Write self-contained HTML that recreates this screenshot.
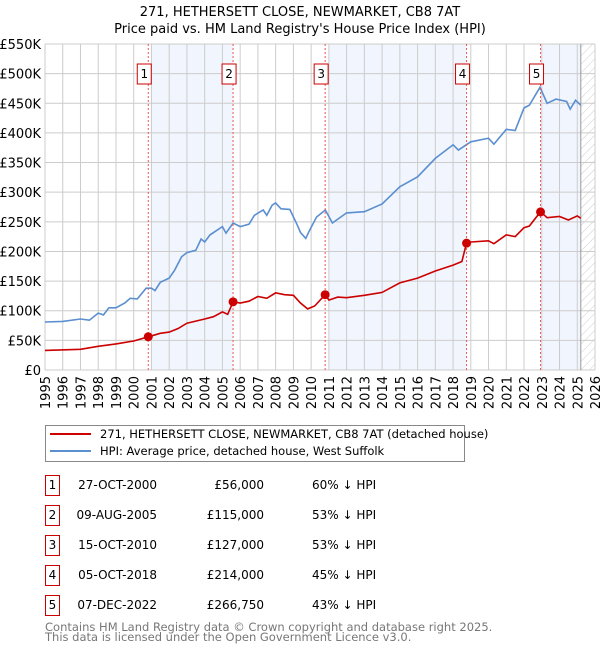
<!DOCTYPE html>
<html><head><meta charset="utf-8"><style>
body{margin:0;background:#fff;}
svg text{font-family:"DejaVu Sans","Liberation Sans",sans-serif;}
</style></head><body>
<svg id="c" width="600" height="650" viewBox="0 0 600 650" xmlns="http://www.w3.org/2000/svg">
<text x="300" y="16" font-size="13" text-anchor="middle">271, HETHERSETT CLOSE, NEWMARKET, CB8 7AT</text>
<text x="300" y="33" font-size="13" text-anchor="middle">Price paid vs. HM Land Registry's House Price Index (HPI)</text>
<g id="bands"></g><g id="grid"></g><g id="axes"></g><g id="series"></g><g id="marks"></g>
<g>
<rect x="45.5" y="425.5" width="419" height="36" fill="#fff" stroke="#888"/>
<line x1="50" y1="434" x2="91" y2="434" stroke="#cc0000" stroke-width="2"/>
<text x="100" y="438" font-size="11.5">271, HETHERSETT CLOSE, NEWMARKET, CB8 7AT (detached house)</text>
<line x1="50" y1="451" x2="91" y2="451" stroke="#5b8fd0" stroke-width="2"/>
<text x="100" y="455" font-size="11.5">HPI: Average price, detached house, West Suffolk</text>
</g>
<g id="table"></g>
<text x="45" y="631" font-size="11.5" fill="#777">Contains HM Land Registry data © Crown copyright and database right 2025.</text>
<text x="45" y="641" font-size="11.5" fill="#777">This data is licensed under the Open Government Licence v3.0.</text>
</svg>
<script>
const hpiYears=[1995,1996,1997,1997.5,1998,1998.3,1998.6,1999,1999.5,1999.8,2000.2,2000.7,2001,2001.2,2001.5,2002,2002.3,2002.7,2003,2003.5,2003.8,2004,2004.3,2005,2005.2,2005.6,2006,2006.5,2006.8,2007.3,2007.5,2007.8,2008,2008.3,2008.8,2009.2,2009.4,2009.7,2009.9,2010.3,2010.8,2011.2,2012,2013,2014,2015,2016,2017,2018,2018.3,2019,2020,2020.3,2021,2021.5,2022,2022.3,2022.9,2023.3,2023.8,2024.4,2024.6,2024.9,2025.2];
const hpiValues=[81,82,86,84,96,93,105,105,113,121,120,138,138,134,148,155,168,191,198,202,221,216,228,242,231,248,242,246,261,270,261,278,282,272,271,246,232,222,235,258,270,248,265,267,280,309,326,357,380,371,385,391,381,406,404,442,447,477,450,457,453,440,455,447];
const ppYears=[1995,1997,1998,1999,2000,2000.82,2001.5,2002,2002.5,2003,2004,2004.5,2005,2005.3,2005.6,2006,2006.5,2007,2007.5,2008,2008.5,2009,2009.4,2009.8,2010.2,2010.79,2011,2011.5,2012,2013,2014,2015,2016,2017,2018,2018.5,2018.76,2019,2020,2020.3,2021,2021.5,2022,2022.3,2022.93,2023.3,2024,2024.5,2025,2025.2];
const ppValues=[33,35,40,44,49,56,62,64,70,79,86,90,98,94,115,113,116,124,121,130,127,126,113,103,108,127,118,123,122,126,131,147,155,167,177,183,214,216,218,213,228,225,240,243,267,257,259,253,260,256];
const saleNums=["1","2","3","4","5"];
const saleYears=[2000.82,2005.6,2010.79,2018.76,2022.93];
const saleValues=[56,115,127,214,266.75];
const saleDates=["27-OCT-2000","09-AUG-2005","15-OCT-2010","05-OCT-2018","07-DEC-2022"];
const salePrices=["£56,000","£115,000","£127,000","£214,000","£266,750"];
const saleHpi=["60% ↓ HPI","53% ↓ HPI","53% ↓ HPI","45% ↓ HPI","43% ↓ HPI"];
const yTicks=[0,50,100,150,200,250,300,350,400,450,500,550];
const yTickLabels=["£0","£50K","£100K","£150K","£200K","£250K","£300K","£350K","£400K","£450K","£500K","£550K"];
const xStart=1995,xEnd=2026,dataEnd=2025.2;
const X=v=>45+(v-xStart)*550/(xEnd-xStart);
const Y=v=>370-v*326/550;
const NS="http://www.w3.org/2000/svg";
function mk(parent,tag,attrs){const e=document.createElementNS(NS,tag);for(const k in attrs)e.setAttribute(k,attrs[k]);document.getElementById(parent).appendChild(e);return e;}
// bands
const bandStarts=[2001,2011,2023];
const bandEnds=[saleYears[1],saleYears[3],dataEnd];
for(let i=0;i<bandStarts.length;i++){
 const r=mk('bands','rect',{x:X(bandStarts[i]),y:Y(550),width:X(bandEnds[i])-X(bandStarts[i]),height:Y(0)-Y(550),fill:'#eef3fc',opacity:0.8});
 
 
}
// hatch
const defs=mk('bands','defs',{});
defs.innerHTML='<pattern id="h" width="6" height="6" patternUnits="userSpaceOnUse" patternTransform="rotate(45)"><line x1="0" y1="0" x2="0" y2="6" stroke="#ccc" stroke-width="1"/></pattern>';
const hr=mk('bands','rect',{x:X(dataEnd),y:Y(550),width:X(xEnd)-X(dataEnd),height:Y(0)-Y(550),fill:'url(#h)'});


// grid
for(let yr=xStart;yr<=xEnd;yr++){
 const l=mk('grid','line',{x1:X(yr),x2:X(yr),y1:Y(0),y2:Y(550),stroke:'#ccc'});
 
 
 const t=mk('axes','text',{x:0,y:0,'font-size':13,'text-anchor':'end',transform:`translate(${X(yr)+5},376) rotate(-90)`});
 t.textContent=yr;
 
 
}
yTicks.forEach((v,i)=>{
 const l=mk('grid','line',{x1:45,x2:595,y1:Y(v),y2:Y(v),stroke:'#ccc'});
 
 
 const t=mk('axes','text',{x:41,y:Y(v)+5,'font-size':13,'text-anchor':'end'});
 t.textContent=yTickLabels[i];
 
 
});
const dl=mk('grid','line',{x1:X(dataEnd),x2:X(dataEnd),y1:Y(0),y2:Y(550),stroke:'#999'});


// series
const pts=(xs,ys)=>xs.map((x,i)=>X(x).toFixed(1)+','+Y(ys[i]).toFixed(1)).join(' ');
const h=mk('series','polyline',{points:pts(hpiYears,hpiValues),fill:'none',stroke:'#5b8fd0','stroke-width':1.6});


const p=mk('series','polyline',{points:pts(ppYears,ppValues),fill:'none',stroke:'#cc0000','stroke-width':1.6});


// sales
saleYears.forEach((yr,i)=>{
 const v=mk('marks','line',{x1:X(yr),x2:X(yr),y1:Y(0),y2:Y(550),stroke:'#e55','stroke-dasharray':'2,2','stroke-width':1});
 
 
 const c=mk('marks','circle',{cx:X(yr),cy:Y(saleValues[i]),r:4.5,fill:'#cc0000'});
 
 
 const b=mk('marks','rect',{x:X(yr)-11,y:64,width:14,height:20,fill:'#fff',stroke:'#cc0000'});
 
 
 const t=mk('marks','text',{x:X(yr)-4,y:78,'font-size':12,'text-anchor':'middle'});
 t.textContent=saleNums[i];
 
 
 // table
 const ry=475+i*30;
 const tb=mk('table','rect',{x:45.5,y:ry+0.5,width:14,height:20,fill:'#fff',stroke:'#cc0000'});
 
 
 const tn=mk('table','text',{x:52.5,y:ry+14,'font-size':12,'text-anchor':'middle'});
 tn.textContent=saleNums[i];
 
 
 const td=mk('table','text',{x:157,y:ry+14,'font-size':12,'text-anchor':'end'});
 td.textContent=saleDates[i];
 
 
 const tp=mk('table','text',{x:264,y:ry+14,'font-size':12,'text-anchor':'end'});
 tp.textContent=salePrices[i];
 
 
 const th=mk('table','text',{x:312,y:ry+14,'font-size':12});
 th.textContent=saleHpi[i];
 
 
});
</script>
</body></html>
